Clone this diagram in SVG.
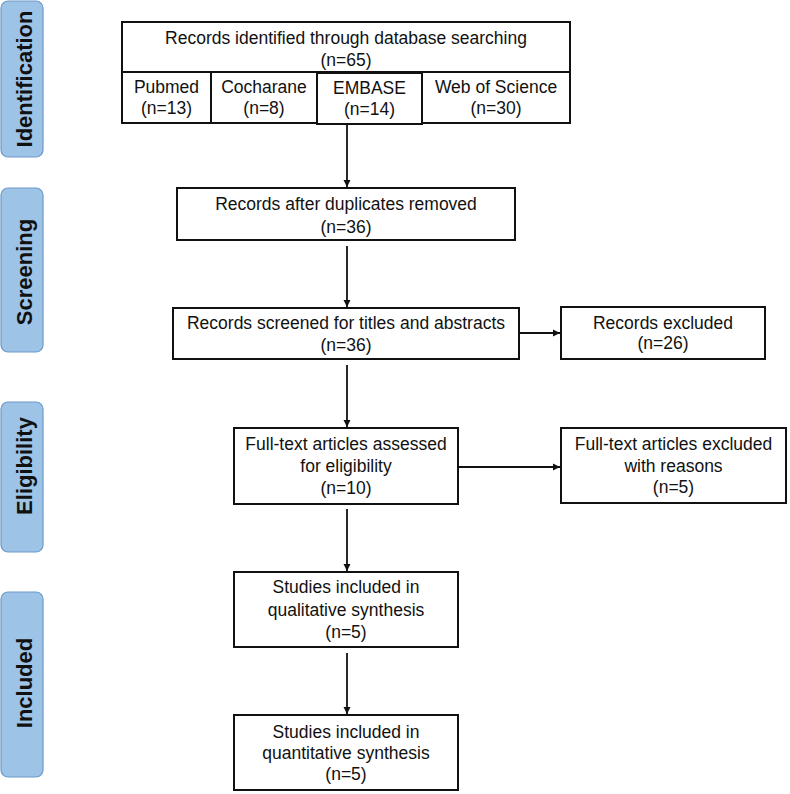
<svg xmlns="http://www.w3.org/2000/svg" width="790" height="794" viewBox="0 0 790 794">
<defs>
<marker id="ah" viewBox="0 0 8 8" refX="8" refY="4" markerWidth="4" markerHeight="4" orient="auto" markerUnits="strokeWidth">
<path d="M0,0 L8,4 L0,8 Z" fill="#111"/>
</marker>
<style>
.box{fill:#fff;stroke:#111;stroke-width:2}
.side{fill:#9DC3E6;stroke:#6C9AC9;stroke-width:1.2}
.t{font-family:"Liberation Sans",Arial,sans-serif;font-size:17.5px;fill:#111;text-anchor:middle}
.s{font-family:"Liberation Sans",Arial,sans-serif;font-size:22px;font-weight:bold;fill:#111;text-anchor:middle}
.c{stroke:#111;stroke-width:1.8;fill:none;marker-end:url(#ah)}
</style>
</defs>
<rect width="790" height="794" fill="#fff"/>
<g id="stage-identification">
<rect class="side" x="1" y="1" width="42" height="156" rx="7"/>
<text class="s" transform="translate(32,79) rotate(-90)">Identification</text>
</g>
<g id="stage-screening">
<rect class="side" x="1" y="188" width="42" height="164" rx="7"/>
<text class="s" transform="translate(32,272) rotate(-90)">Screening</text>
</g>
<g id="stage-eligibility">
<rect class="side" x="1" y="402" width="42" height="150" rx="7"/>
<text class="s" transform="translate(32,466) rotate(-90)">Eligibility</text>
</g>
<g id="stage-included">
<rect class="side" x="1" y="592" width="42" height="185" rx="7"/>
<text class="s" transform="translate(32,683) rotate(-90)">Included</text>
</g>
<g id="identified">
<rect class="box" x="122" y="22" width="448" height="50"/>
<text class="t" x="346" y="44">Records identified through database searching</text>
<text class="t" x="346" y="66">(n=65)</text>
</g>
<g id="pubmed">
<rect class="box" x="122" y="72" width="89" height="51"/>
<text class="t" x="166.5" y="93">Pubmed</text>
<text class="t" x="166.5" y="114">(n=13)</text>
</g>
<g id="cochrane">
<rect class="box" x="211" y="72" width="106" height="51"/>
<text class="t" x="264" y="93">Cocharane</text>
<text class="t" x="264" y="114">(n=8)</text>
</g>
<g id="embase">
<rect class="box" x="317" y="73" width="105" height="51"/>
<text class="t" x="369.5" y="94">EMBASE</text>
<text class="t" x="369.5" y="115">(n=14)</text>
</g>
<g id="wos">
<rect class="box" x="422" y="72" width="148" height="51"/>
<text class="t" x="496" y="93">Web of Science</text>
<text class="t" x="496" y="114">(n=30)</text>
</g>
<g id="dedup">
<rect class="box" x="177" y="188" width="338" height="52"/>
<text class="t" x="346" y="210">Records after duplicates removed</text>
<text class="t" x="346" y="233">(n=36)</text>
</g>
<g id="screened">
<rect class="box" x="173" y="308" width="346" height="51"/>
<text class="t" x="346" y="329">Records screened for titles and abstracts</text>
<text class="t" x="346" y="351">(n=36)</text>
</g>
<g id="excluded">
<rect class="box" x="561" y="307" width="204" height="52"/>
<text class="t" x="663" y="329">Records excluded</text>
<text class="t" x="663" y="349">(n=26)</text>
</g>
<g id="fulltext">
<rect class="box" x="234" y="428" width="224" height="76"/>
<text class="t" x="346" y="450">Full-text articles assessed</text>
<text class="t" x="346" y="472">for eligibility</text>
<text class="t" x="346" y="494">(n=10)</text>
</g>
<g id="ft-excluded">
<rect class="box" x="561" y="428" width="225" height="75"/>
<text class="t" x="673.5" y="450">Full-text articles excluded</text>
<text class="t" x="673.5" y="472">with reasons</text>
<text class="t" x="673.5" y="493">(n=5)</text>
</g>
<g id="qualitative">
<rect class="box" x="234" y="572" width="224" height="75"/>
<text class="t" x="346" y="593">Studies included in</text>
<text class="t" x="346" y="616">qualitative synthesis</text>
<text class="t" x="346" y="638">(n=5)</text>
</g>
<g id="quantitative">
<rect class="box" x="234" y="715" width="224" height="75"/>
<text class="t" x="346" y="738">Studies included in</text>
<text class="t" x="346" y="759">quantitative synthesis</text>
<text class="t" x="346" y="780">(n=5)</text>
</g>
<g id="connectors">
<line class="c" x1="347" y1="124" x2="347" y2="187"/>
<line class="c" x1="347" y1="246" x2="347" y2="307"/>
<line class="c" x1="519" y1="333" x2="560" y2="333"/>
<line class="c" x1="347" y1="365" x2="347" y2="427"/>
<line class="c" x1="458" y1="467" x2="560" y2="467"/>
<line class="c" x1="347" y1="509" x2="347" y2="571"/>
<line class="c" x1="347" y1="653" x2="347" y2="714"/>
</g>
</svg>
